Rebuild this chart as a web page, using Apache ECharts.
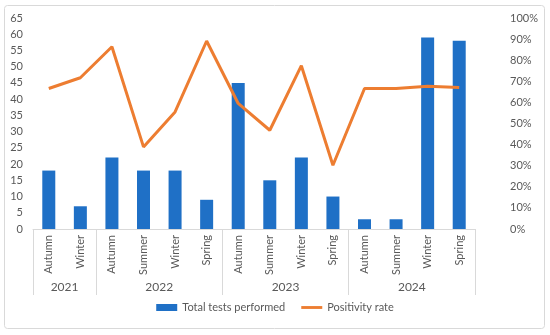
<!DOCTYPE html>
<html><head><meta charset="utf-8">
<script src="https://cdn.jsdelivr.net/npm/echarts@6/dist/echarts.min.js"></script>
<style>html,body{margin:0;padding:0;background:#fff}#c{width:550px;height:335px}</style>
</head><body><div id="c"></div>
<script>
var seasons = ['Autumn','Winter','Autumn','Summer','Winter','Spring','Autumn','Summer','Winter','Spring','Autumn','Summer','Winter','Spring'];
var years = ['2021','2022','2023','2024'];
var yearSpans = [2,4,4,4];
var totalTests = [18,7,22,18,18,9,45,15,22,10,3,3,59,58];
var positivity = [66.6,71.7,86.4,38.9,55.5,89.1,59.5,46.8,77.4,30.2,66.6,66.6,67.7,67.1];
var leftTicks = [0,65,5];
var rightTicks = [0,100,10];

var bounds = [0], mids = [];
yearSpans.forEach(function(s,i){ var b = bounds[bounds.length-1]; mids.push(b + s/2); bounds.push(b + s); });
var yearByPos = {}; mids.forEach(function(m,i){ yearByPos[m] = years[i]; });

var FONT = 'Lato';
var GRAY = '#595959';
var chart = echarts.init(document.getElementById('c'));
chart.setOption({
  animation:false,
  textStyle:{fontFamily:FONT},
  graphic:[{type:'rect',shape:{x:4.5,y:5.5,width:540,height:323,r:3},style:{fill:'none',stroke:'#d9d9d9',lineWidth:1}}],
  grid:{left:33,right:75,top:18,bottom:106},
  legend:{bottom:17,left:'center',itemGap:16,textStyle:{color:GRAY,fontSize:11,fontFamily:FONT},itemWidth:21,itemHeight:7,
    data:[{name:'Total tests performed',icon:'rect'},{name:'Positivity rate',icon:'path://M0 0H22V3H0Z'}]},
  xAxis:[
    {type:'category',data:seasons,position:'bottom',
     axisLine:{lineStyle:{color:'#d9d9d9'}},axisTick:{show:false},
     axisLabel:{rotate:90,color:GRAY,fontSize:11,margin:6,fontFamily:FONT}},
    {type:'value',min:0,max:seasons.length,position:'bottom',
     axisLine:{show:false},splitLine:{show:false},
     axisTick:{show:true,inside:false,length:66,customValues:bounds,lineStyle:{color:'#d9d9d9'}},
     axisLabel:{customValues:mids,margin:52,color:GRAY,fontSize:12,fontFamily:FONT,formatter:function(v){return yearByPos[v]||'';}}}
  ],
  yAxis:[
    {type:'value',min:leftTicks[0],max:leftTicks[1],interval:leftTicks[2],splitLine:{show:false},
     axisLine:{show:false},axisTick:{show:false},axisLabel:{color:GRAY,fontSize:11,margin:10,fontFamily:FONT}},
    {type:'value',min:rightTicks[0],max:rightTicks[1],interval:rightTicks[2],splitLine:{show:false},position:'right',
     axisLine:{show:false},axisTick:{show:false},
     axisLabel:{color:GRAY,fontSize:11,margin:35,fontFamily:FONT,formatter:'{value}%'}}
  ],
  series:[
    {name:'Total tests performed',type:'bar',data:totalTests,xAxisIndex:0,yAxisIndex:0,barWidth:13,itemStyle:{color:'#1F70C6'}},
    {name:'Positivity rate',type:'line',data:positivity,xAxisIndex:0,yAxisIndex:1,symbol:'none',lineStyle:{color:'#ED7D31',width:3},itemStyle:{color:'#ED7D31'}}
  ]
});
</script></body></html>
